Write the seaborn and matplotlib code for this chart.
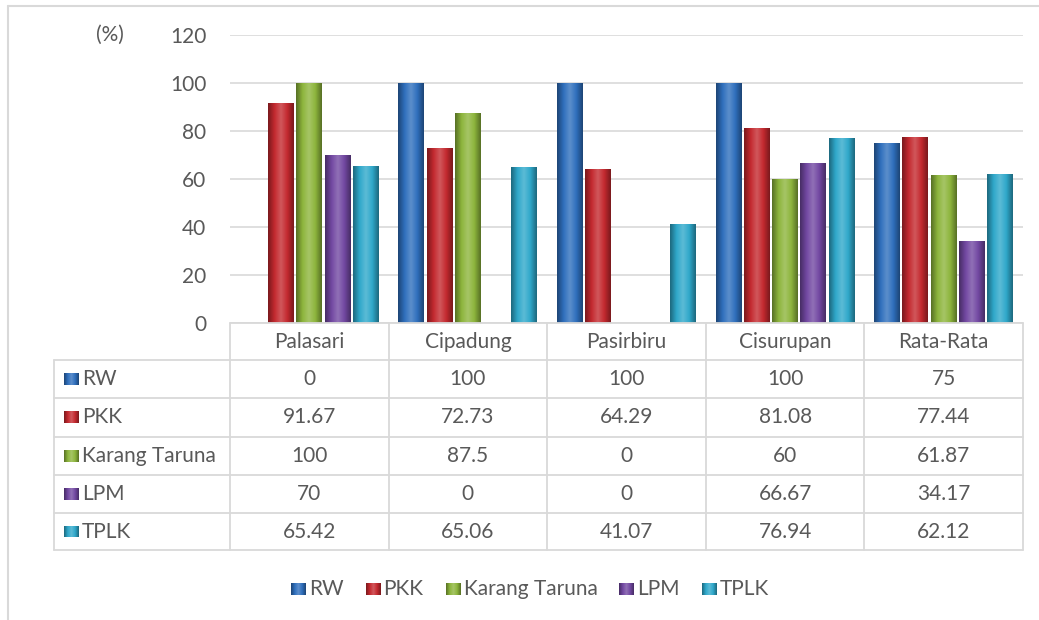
import numpy as np
import pandas as pd
import matplotlib
matplotlib.use("Agg")
import matplotlib.pyplot as plt
from matplotlib.colors import LinearSegmentedColormap, to_rgb
import seaborn as sns

# ---- data ----
categories = ["Palasari", "Cipadung", "Pasirbiru", "Cisurupan", "Rata-Rata"]
series = ["RW", "PKK", "Karang Taruna", "LPM", "TPLK"]
rw = [0, 100, 100, 100, 75]
pkk = [91.67, 72.73, 64.29, 81.08, 77.44]
karang_taruna = [100, 87.5, 0, 60, 61.87]
lpm = [70, 0, 0, 66.67, 34.17]
tplk = [65.42, 65.06, 41.07, 76.94, 62.12]
y_ticks = [0, 20, 40, 60, 80, 100, 120]

values = [rw, pkk, karang_taruna, lpm, tplk]
colors = ["#2F6FBD", "#C4292F", "#8DB53C", "#7248A2", "#2FA8CA"]

df = pd.DataFrame({
    "cat": [c for s in series for c in categories],
    "series": [s for s in series for _ in categories],
    "val": [v for vals in values for v in vals],
})

sns.set_theme(style="white")
plt.rcParams["font.family"] = ["Lato", "DejaVu Sans"]
TXT = "#595959"
GRID = "#D9D9D9"
FS = 15

W, H = 1039, 620
fig = plt.figure(figsize=(W / 100, H / 100), dpi=100)

def fx(px):
    return px / W

def fy(py):
    return 1 - py / H

x0, x1 = 230, 1023
y_top, y_bot = 35, 323
ax = fig.add_axes([fx(x0), fy(y_bot), fx(x1) - fx(x0), fy(y_top) - fy(y_bot)])

sns.barplot(data=df, x="cat", y="val", hue="series", palette=colors,
            order=categories, hue_order=series, width=0.89, gap=0.08,
            saturation=1, ax=ax, legend=False, linewidth=0)

ax.set_ylim(0, 120)
ax.set_xlim(-0.5, len(categories) - 0.5)
ax.set_yticks(y_ticks)
ax.set_yticklabels([str(t) for t in y_ticks], color=TXT, fontsize=FS)
ax.tick_params(axis="y", length=0, pad=17)
ax.set_xticks([])
ax.set_xlabel("")
ax.set_ylabel("")
for sp in ax.spines.values():
    sp.set_visible(False)
ax.grid(axis="y", color=GRID, linewidth=1.2)
ax.set_axisbelow(True)

# gradient shading on bars
def shade(c):
    r = np.array(to_rgb(c))
    dark = r * 0.62
    light = np.clip(r + (1 - r) * 0.22, 0, 1)
    return LinearSegmentedColormap.from_list("g", [dark, r, light, r, dark])

grad = np.linspace(0, 1, 64).reshape(1, -1)
bars = list(ax.patches)
for i, p in enumerate(bars):
    h = p.get_height()
    if h <= 0:
        continue
    si = i // len(categories)
    xl = p.get_x()
    w = p.get_width()
    im = ax.imshow(grad, cmap=shade(colors[si]), aspect="auto",
                   extent=[xl, xl + w, 0, h], zorder=p.get_zorder() + 0.1,
                   interpolation="bicubic")
    im.set_clip_path(p)
ax.set_xlim(-0.5, len(categories) - 0.5)
ax.set_ylim(0, 120)

# (%) label
fig.text(fx(110), fy(35), "(%)", color=TXT, fontsize=FS, ha="center", va="center")

# ---- data table ----
lab_x0 = 54
col_w = (x1 - x0) / len(categories)
row_edges = [323, 360, 398, 436.5, 475, 513, 550]

def hline(y, xa, xb):
    fig.add_artist(plt.Line2D([fx(xa), fx(xb)], [fy(y), fy(y)], color=GRID, lw=1.3))

def vline(x, ya, yb):
    fig.add_artist(plt.Line2D([fx(x), fx(x)], [fy(ya), fy(yb)], color=GRID, lw=1.3))

hline(row_edges[0], x0, x1)
for y in row_edges[1:]:
    hline(y, lab_x0, x1)
vline(lab_x0, row_edges[1], row_edges[-1])
for k in range(len(categories) + 1):
    vline(x0 + k * col_w, row_edges[0], row_edges[-1])

for k, c in enumerate(categories):
    fig.text(fx(x0 + (k + 0.5) * col_w), fy((row_edges[0] + row_edges[1]) / 2), c,
             color=TXT, fontsize=FS, ha="center", va="center")

def marker(px, py, c, w=15, h=12):
    ax_m = fig.add_axes([fx(px), fy(py + h / 2), w / W, h / H])
    ax_m.imshow(grad, cmap=shade(c), aspect="auto", extent=[0, 1, 0, 1])
    ax_m.set_axis_off()

def fmt(v):
    return f"{v:g}"

for r, s in enumerate(series):
    yc = (row_edges[r + 1] + row_edges[r + 2]) / 2
    marker(64, yc, colors[r])
    fig.text(fx(82), fy(yc), s, color=TXT, fontsize=FS, ha="left", va="center")
    for k in range(len(categories)):
        fig.text(fx(x0 + (k + 0.5) * col_w), fy(yc), fmt(values[r][k]),
                 color=TXT, fontsize=FS, ha="center", va="center")

# ---- legend ----
leg_y = 589
widths = []
r_ = fig.canvas.get_renderer()
for s in series:
    t = fig.text(0, 0, s, fontsize=FS)
    bb = t.get_window_extent(renderer=r_)
    widths.append(bb.width)
    t.remove()
mk, gap_mt, gap_items = 15, 3, 22
total = sum(mk + gap_mt + w for w in widths) + gap_items * (len(series) - 1)
cx = 530
x = cx - total / 2
for s, c, w in zip(series, colors, widths):
    marker(x, leg_y, c)
    fig.text(fx(x + mk + gap_mt), fy(leg_y), s, color=TXT, fontsize=FS,
             ha="left", va="center")
    x += mk + gap_mt + w + gap_items

# outer border (top & left visible)
fig.add_artist(plt.Line2D([fx(8), fx(W)], [fy(6), fy(6)], color=GRID, lw=1.5))
fig.add_artist(plt.Line2D([fx(8), fx(8)], [fy(6), fy(H)], color=GRID, lw=1.5))

fig.savefig("out.png", dpi=100)
